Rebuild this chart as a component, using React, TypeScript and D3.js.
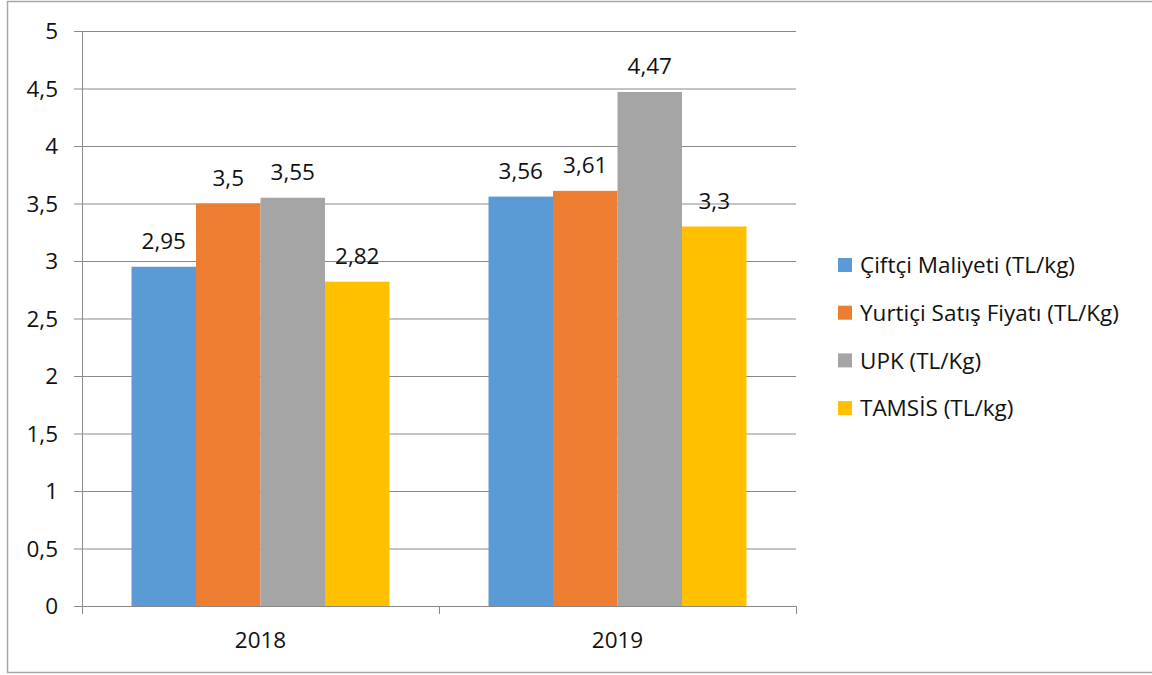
import React from "react";
import * as d3 from "d3";

const categories = ["2018", "2019"];
const seriesNames = [
  "Çiftçi Maliyeti (TL/kg)",
  "Yurtiçi Satış Fiyatı (TL/Kg)",
  "UPK (TL/Kg)",
  "TAMSİS (TL/kg)",
];
const seriesValues = [
  [2.95, 3.56],
  [3.5, 3.61],
  [3.55, 4.47],
  [2.82, 3.3],
];
const seriesLabels = [
  ["2,95", "3,56"],
  ["3,5", "3,61"],
  ["3,55", "4,47"],
  ["2,82", "3,3"],
];
const yTicks = [0, 0.5, 1, 1.5, 2, 2.5, 3, 3.5, 4, 4.5, 5];
const yTickLabels = ["0", "0,5", "1", "1,5", "2", "2,5", "3", "3,5", "4", "4,5", "5"];
const colors = ["#5B9BD5", "#ED7D31", "#A5A5A5", "#FFC000"];

export default function App() {
  const W = 1152, H = 675;
  const left = 82, right = 796, top = 31, bottom = 606;
  const font = "'Open Sans', 'Liberation Sans', sans-serif";
  const y = d3.scaleLinear().domain([0, 5]).range([bottom, top]);
  const x0 = d3.scaleBand().domain(categories).range([left, right]).paddingInner(0).paddingOuter(0);
  const groupW = 258;
  const x1 = d3.scaleBand().domain(seriesNames).range([0, groupW]);
  const off = (x0.bandwidth() - groupW) / 2;
  const gridColor = "#898989";
  const fs = 22.5;
  const tc = "#111";
  return (
    <svg width={W} height={H} style={{ position: "absolute", left: 0, top: 0, background: "#fff" }} fontFamily={font}>
      <rect x={7.5} y={1.5} width={W} height={671} fill="#fff" stroke="#A6A6A6" strokeWidth={1.5} />
      {yTicks.map((t, i) => (
        <g key={t}>
          <line x1={74} x2={right} y1={y(t) + 0.5} y2={y(t) + 0.5} stroke={gridColor} strokeWidth={1} />
          <text x={58} y={y(t)} dy="0.36em" textAnchor="end" fontSize={fs} fill={tc}>{yTickLabels[i]}</text>
        </g>
      ))}
      <line x1={left + 0.5} x2={left + 0.5} y1={top} y2={bottom + 8} stroke={gridColor} />
      {categories.map((c, ci) => (
        <g key={c}>
          {seriesNames.map((s, si) => {
            const bx = (x0(c) as number) + off + (x1(s) as number);
            const v = seriesValues[si][ci];
            return (
              <g key={s}>
                <rect x={bx} y={y(v)} width={x1.bandwidth()} height={bottom - y(v)} fill={colors[si]} />
                <text x={bx + x1.bandwidth() / 2} y={y(v) - 17.5} textAnchor="middle" fontSize={fs} fill={tc}>{seriesLabels[si][ci]}</text>
              </g>
            );
          })}
          <text x={(x0(c) as number) + x0.bandwidth() / 2} y={648} textAnchor="middle" fontSize={fs} fill={tc}>{c}</text>
        </g>
      ))}
      {[left, left + x0.bandwidth(), right].map((tx, i) => (
        <line key={i} x1={tx + 0.5} x2={tx + 0.5} y1={bottom} y2={bottom + 8} stroke={gridColor} />
      ))}
      <line x1={left} x2={right + 1} y1={bottom + 0.5} y2={bottom + 0.5} stroke={gridColor} />
      {seriesNames.map((s, si) => {
        const ly = 265 + si * 47.7;
        return (
          <g key={s}>
            <rect x={838} y={ly - 7} width={14} height={14} fill={colors[si]} />
            <text x={860} y={ly} dy="0.36em" fontSize={fs} fill={tc}>{s}</text>
          </g>
        );
      })}
    </svg>
  );
}
